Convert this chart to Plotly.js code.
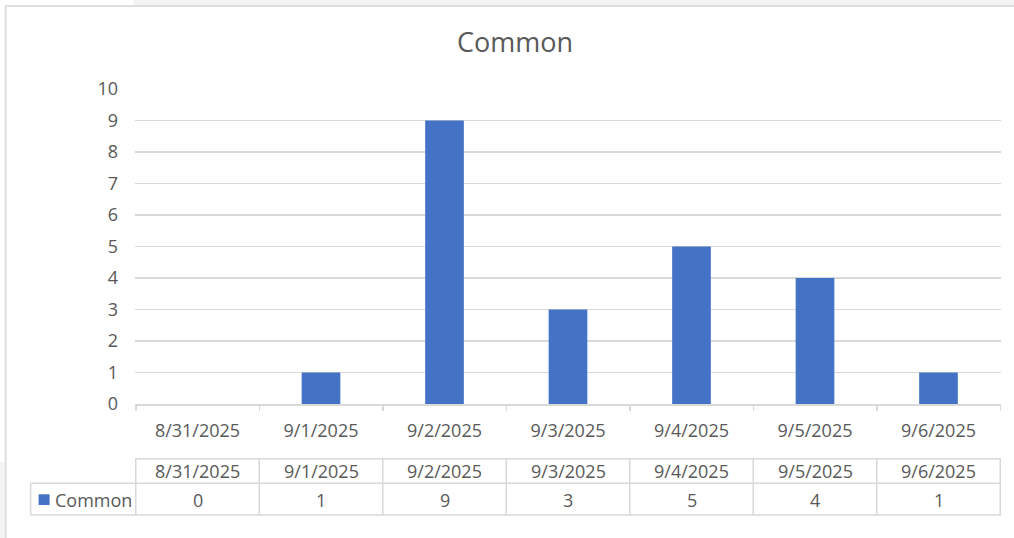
<!DOCTYPE html>
<html>
<head>
<meta charset="utf-8">
<script src="https://cdn.plot.ly/plotly-3.0.1.min.js"></script>
<style>html,body{margin:0;padding:0;background:#fff;}#chart{width:1014px;height:538px;}</style>
</head>
<body>
<div id="chart"></div>
<script>
const categories = ["8/31/2025","9/1/2025","9/2/2025","9/3/2025","9/4/2025","9/5/2025","9/6/2025"];
const seriesName = "Common";
const values = [0, 1, 9, 3, 5, 4, 1];
const yTicks = [0,1,2,3,4,5,6,7,8,9,10];

const TXT = "#595959", GRID = "#D9D9D9", BAR = "#4472C4";
const FONT = "Open Sans, Liberation Sans, sans-serif";
const FS = 18;

// table geometry in paper units (plot area height 315px, width 867px)
const H = 315, W = 867;
const py = v => (404 - v) / H;        // pixel y -> paper y
const px = v => (v - 134.5) / W;      // pixel x -> paper x
const tTop = py(458.7), tMid = py(483.3), tBot = py(515);
const rowHead = py(470.7), rowVal = py(499.5);
const tLeft = px(30);

const shapes = [];
const annotations = [];
// frame and background strip
shapes.push({type:"rect", xref:"paper", yref:"paper", x0:px(133), x1:1.05, y0:py(5), y1:py(-2), fillcolor:"#F2F3F5", line:{width:0}, layer:"below"});
shapes.push({type:"rect", xref:"paper", yref:"paper", x0:px(-2), x1:px(4), y0:py(540), y1:py(462), fillcolor:"#F2F3F5", line:{width:0}, layer:"below"});
shapes.push({type:"rect", xref:"paper", yref:"paper", x0:px(5), x1:1.05, y0:-0.6, y1:py(6), fillcolor:"rgba(0,0,0,0)", line:{color:"#DEDEDE", width:2}, layer:"below"});
// table lines
shapes.push({type:"line", xref:"paper", yref:"paper", x0:0, x1:1, y0:tTop, y1:tTop, line:{color:GRID, width:1.5}});
shapes.push({type:"line", xref:"paper", yref:"paper", x0:tLeft, x1:1, y0:tMid, y1:tMid, line:{color:GRID, width:1.5}});
shapes.push({type:"line", xref:"paper", yref:"paper", x0:tLeft, x1:1, y0:tBot, y1:tBot, line:{color:GRID, width:1.5}});
shapes.push({type:"line", xref:"paper", yref:"paper", x0:tLeft, x1:tLeft, y0:tMid, y1:tBot, line:{color:GRID, width:1.5}});
for (let i = 0; i <= categories.length; i++) {
  shapes.push({type:"line", xref:"x", yref:"paper", x0:i-0.5, x1:i-0.5, y0:tTop, y1:tBot, line:{color:GRID, width:1.5}});
}
// legend key
shapes.push({type:"rect", xref:"paper", yref:"paper", x0:px(38), x1:px(49), y0:py(505), y1:py(494.3), fillcolor:BAR, line:{width:0}});
annotations.push({xref:"paper", yref:"paper", x:px(52), y:rowVal, xanchor:"left", yanchor:"middle", text:seriesName, showarrow:false, font:{family:FONT, size:FS, color:TXT}});
categories.forEach((c, i) => {
  annotations.push({xref:"x", yref:"paper", x:c, y:rowHead, xanchor:"center", yanchor:"middle", text:c, showarrow:false, font:{family:FONT, size:FS, color:TXT}});
  annotations.push({xref:"x", yref:"paper", x:c, y:rowVal, xanchor:"center", yanchor:"middle", text:String(values[i]), showarrow:false, font:{family:FONT, size:FS, color:TXT}});
});

const data = [{
  type:"bar", x:categories, y:values, name:seriesName,
  marker:{color:BAR}, hoverinfo:"skip"
}];

const layout = {
  width:1014, height:538,
  margin:{l:134.5, r:12.5, t:89, b:134, pad:0},
  paper_bgcolor:"#FFFFFF", plot_bgcolor:"#FFFFFF",
  font:{family:FONT, color:TXT, size:FS},
  title:{text:"Common", font:{family:FONT, size:27, color:TXT}, xref:"container", yref:"container", x:515/1014, xanchor:"center", y:1-43/538, yanchor:"middle"},
  showlegend:false,
  bargap:0.687,
  xaxis:{type:"category", tickson:"boundaries", ticks:"outside", ticklen:5, tickcolor:GRID, tickwidth:1.5,
         showline:true, linecolor:GRID, linewidth:1.5, showgrid:false, zeroline:false,
         tickfont:{family:FONT, size:FS, color:TXT}, ticklabelstandoff:10, fixedrange:true},
  yaxis:{range:[0,10], tickvals:yTicks, ticktext:yTicks.map(String), showgrid:true, gridcolor:GRID, gridwidth:1.5,
         zeroline:false, showline:false, ticks:"", tickfont:{family:FONT, size:FS, color:TXT}, ticklabelstandoff:16, fixedrange:true},
  shapes:shapes,
  annotations:annotations
};

Plotly.newPlot("chart", data, layout, {displayModeBar:false, staticPlot:true});
</script>
</body>
</html>
